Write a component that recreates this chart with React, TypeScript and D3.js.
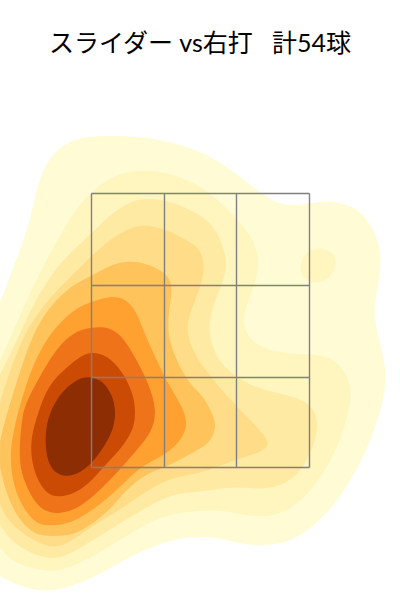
import React from "react";
import * as d3 from "d3";

const titleText = "スライダー vs右打   計54球";
const zoneXLines = [-108.5, -35.5, 36.5, 109.5];
const zoneYLines = [406.5, 314.5, 222.5, 132.5];
const levelColors = ["#fffbd5", "#fff5be", "#feeaa3", "#fedc88", "#fec35a", "#fea131", "#ef7419", "#cb4b05", "#8c2d04"];

type P = [number, number];
const level1: P[] = [[-200,295],[-187,333],[-173,367],[-165,403],[-158,430],[-143,452],[-120,463],[-100,464],[-67,464],[-33,459],[0,449],[20,438],[43,421],[67,402],[87,393],[110,397],[133,399],[157,393],[173,373],[182,347],[179,317],[173,290],[178,263],[184,240],[187,223],[182,193],[170,157],[153,123],[133,93],[110,70],[87,57],[63,54],[40,56],[20,62],[0,64],[-20,62],[-50,53],[-80,38],[-107,22],[-133,12],[-157,8],[-180,14],[-200,23],[-225,40],[-240,160],[-220,260]];
const level2: P[] = [[-200,238],[-180,285],[-159,330],[-137,370],[-120,397],[-100,416],[-80,427],[-57,430],[-33,428],[0,415],[17,401],[33,385],[50,367],[62,338],[50,303],[40,277],[53,256],[77,247],[110,246],[133,243],[149,223],[152,203],[145,173],[133,143],[113,110],[90,90],[67,82],[40,86],[17,90],[0,89],[-27,87],[-53,77],[-83,58],[-110,42],[-137,29],[-157,29],[-180,35],[-200,47],[-225,100],[-230,180]];
const level2Island: P[] = [[121,353],[135,347],[137,333],[128,320],[115,316],[101,323],[100,338],[107,349]];
const level3: P[] = [[-200,225],[-185,255],[-165,300],[-145,330],[-133,344],[-108,367],[-87,388],[-67,400],[-50,402],[-27,398],[0,386],[17,371],[28,340],[23,317],[12,293],[8,270],[13,252],[20,237],[37,222],[60,210],[100,203],[116,190],[118,170],[112,150],[100,127],[83,115],[63,110],[33,114],[0,108],[-27,107],[-53,93],[-80,77],[-107,60],[-137,41],[-157,42],[-180,52],[-200,70],[-220,120],[-220,190]];
const level4: P[] = [[-200,200],[-193,220],[-180,257],[-163,287],[-140,313],[-122,330],[-108,345],[-87,363],[-67,374],[-50,375],[-30,369],[-10,358],[0,351],[6,332],[-2,307],[-10,287],[-14,270],[-8,252],[-2,240],[13,220],[37,193],[63,167],[70,156],[62,148],[40,142],[17,133],[0,127],[-27,123],[-53,110],[-80,90],[-110,73],[-137,52],[-157,54],[-180,68],[-200,87],[-212,140]];
const level5: P[] = [[-202,140],[-201,160],[-183,220],[-167,267],[-150,294],[-127,316],[-108,324],[-87,337],[-63,340],[-35,329],[-27,315],[-30,297],[-33,270],[-28,250],[-14,220],[0,207],[7,197],[14,183],[16,172],[10,157],[-3,150],[-20,140],[-35,133],[-57,125],[-73,110],[-80,103],[-90,90],[-120,67],[-137,64],[-157,64],[-167,67],[-183,82],[-195,110]];
const level6: P[] = [[-190,147],[-186,173],[-173,220],[-160,250],[-145,273],[-123,293],[-108,298],[-90,304],[-75,302],[-63,288],[-57,270],[-48,250],[-40,233],[-33,218],[-18,194],[-12,177],[-18,160],[-35,145],[-57,135],[-73,120],[-90,103],[-120,81],[-137,75],[-157,74],[-167,79],[-180,97],[-188,120]];
const level7: P[] = [[-181,147],[-178,187],[-171,203],[-162,220],[-145,250],[-127,268],[-108,273],[-90,273],[-77,263],[-65,243],[-53,220],[-46,200],[-44,183],[-50,165],[-65,148],[-78,133],[-90,120],[-100,110],[-120,92],[-140,86],[-157,88],[-170,105],[-179,127]];
const level8: P[] = [[-108,248],[-93,245],[-77,228],[-67,207],[-64,187],[-67,169],[-80,150],[-97,133],[-112,115],[-127,106],[-140,103],[-153,105],[-164,122],[-169,143],[-169,163],[-162,187],[-152,215],[-133,233],[-118,245]];
const level9: P[] = [[-108,223],[-97,219],[-87,204],[-84,187],[-87,169],[-98,150],[-108,137],[-120,127],[-133,123],[-146,127],[-153,140],[-155,160],[-153,180],[-144,201],[-130,216],[-118,223]];

const contours: { shape: P[]; level: number }[] = [
  { shape: level1, level: 0 },
  { shape: level2, level: 1 },
  { shape: level2Island, level: 1 },
  { shape: level3, level: 2 },
  { shape: level4, level: 3 },
  { shape: level5, level: 4 },
  { shape: level6, level: 5 },
  { shape: level7, level: 6 },
  { shape: level8, level: 7 },
  { shape: level9, level: 8 },
];

const W = 400;
const H = 600;
const xScale = d3.scaleLinear().domain([-200, 200]).range([0, W]);
const yScale = d3.scaleLinear().domain([0, 600]).range([H, 0]);
const outline = d3
  .line<P>()
  .x((d) => xScale(d[0]))
  .y((d) => yScale(d[1]))
  .curve(d3.curveBasisClosed);

export default function App() {
  const [x0, x1] = d3.extent(zoneXLines) as [number, number];
  const [y0, y1] = d3.extent(zoneYLines) as [number, number];
  return (
    <svg
      width={W}
      height={H}
      viewBox={`0 0 ${W} ${H}`}
      style={{ position: "absolute", left: 0, top: 0, background: "#fff" }}
    >
      {contours.map((c, i) => (
        <path key={i} d={outline(c.shape) ?? ""} fill={levelColors[c.level]} />
      ))}
      <g stroke="#808080" strokeWidth={1.4} fill="none">
        {zoneXLines.map((x) => (
          <line key={x} x1={xScale(x)} x2={xScale(x)} y1={yScale(y1)} y2={yScale(y0)} />
        ))}
        {zoneYLines.map((y) => (
          <line key={y} x1={xScale(x0)} x2={xScale(x1)} y1={yScale(y)} y2={yScale(y)} />
        ))}
      </g>
      <text
        x={W / 2}
        y={52}
        textAnchor="middle"
        fontSize={25}
        fill="#000"
        fontFamily="Lato, 'Noto Sans CJK JP', sans-serif"
        style={{ whiteSpace: "pre" }}
      >
        {titleText}
      </text>
    </svg>
  );
}
